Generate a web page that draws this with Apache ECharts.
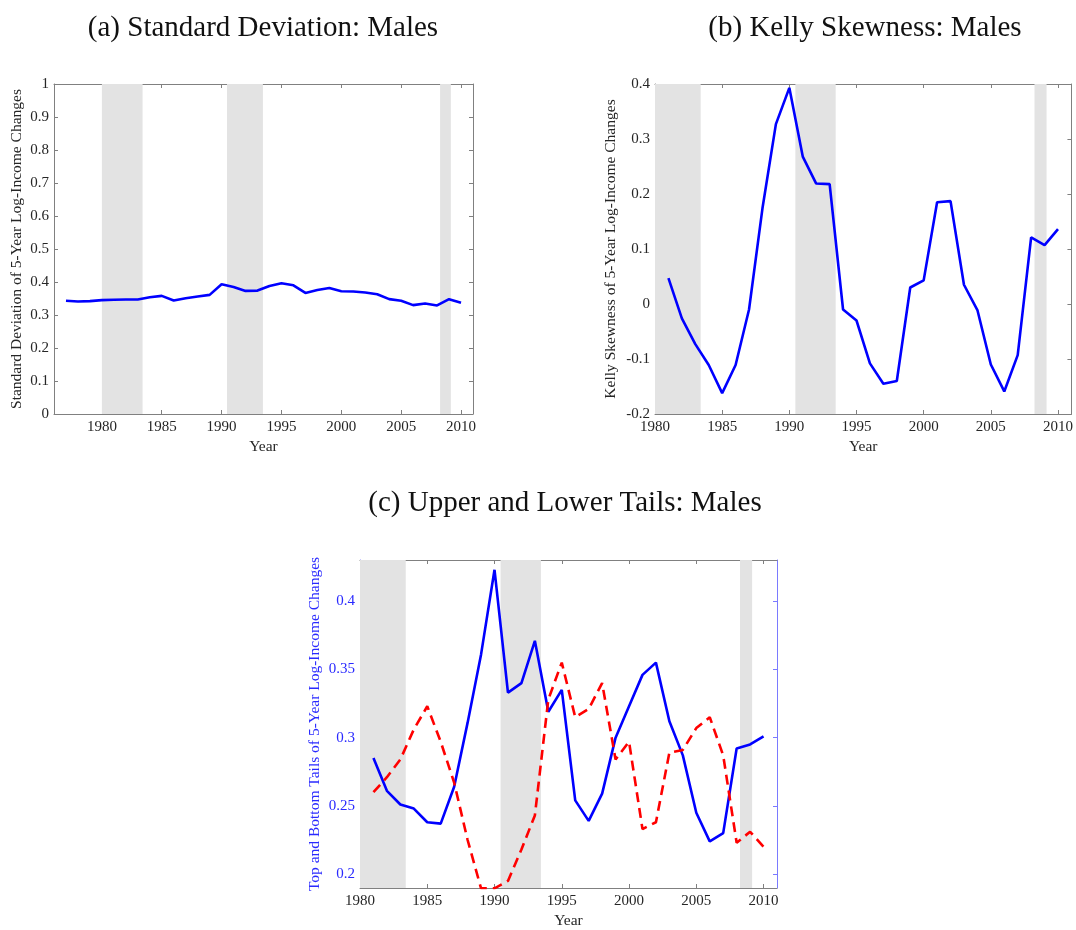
<!DOCTYPE html>
<html><head><meta charset="utf-8">
<script src="https://cdn.jsdelivr.net/npm/echarts@6/dist/echarts.min.js"></script>
<style>html,body{margin:0;padding:0;background:#fff}#c{width:1076px;height:930px}</style>
</head><body><div id="c"></div>
<script>
// ---- data ----
const sdYears = [1977,1978,1979,1980,1981,1982,1983,1984,1985,1986,1987,1988,1989,1990,1991,1992,1993,1994,1995,1996,1997,1998,1999,2000,2001,2002,2003,2004,2005,2006,2007,2008,2009,2010];
const sdValues = [0.343,0.341,0.342,0.345,0.346,0.347,0.347,0.354,0.358,0.344,0.351,0.356,0.361,0.393,0.385,0.373,0.374,0.388,0.396,0.390,0.367,0.376,0.382,0.372,0.371,0.368,0.363,0.348,0.343,0.330,0.335,0.329,0.348,0.337];

const kellyYears = [1981,1982,1983,1984,1985,1986,1987,1988,1989,1990,1991,1992,1993,1994,1995,1996,1997,1998,1999,2000,2001,2002,2003,2004,2005,2006,2007,2008,2009,2010];
const kellyValues = [0.047,-0.026,-0.073,-0.111,-0.162,-0.111,-0.010,0.174,0.327,0.393,0.268,0.219,0.218,-0.010,-0.030,-0.108,-0.145,-0.140,0.030,0.043,0.185,0.187,0.035,-0.011,-0.110,-0.159,-0.093,0.121,0.107,0.136];

const tailYears = [1981,1982,1983,1984,1985,1986,1987,1988,1989,1990,1991,1992,1993,1994,1995,1996,1997,1998,1999,2000,2001,2002,2003,2004,2005,2006,2007,2008,2009,2010];
const topTail = [0.285,0.261,0.251,0.248,0.238,0.237,0.264,0.311,0.361,0.423,0.333,0.340,0.371,0.319,0.335,0.254,0.239,0.259,0.300,0.323,0.346,0.355,0.312,0.287,0.245,0.224,0.230,0.292,0.295,0.301];
const bottomTail = [0.260,0.271,0.284,0.306,0.323,0.297,0.267,0.225,0.1895,0.1895,0.195,0.218,0.243,0.328,0.355,0.315,0.321,0.340,0.284,0.297,0.233,0.238,0.289,0.291,0.307,0.315,0.287,0.223,0.231,0.220];

const recessions = [[1980.0,1983.4],[1990.45,1993.45],[2008.25,2009.15]];
const yearTicks = [1980,1985,1990,1995,2000,2005,2010];
const tailTicks = [0.2,0.25,0.3,0.35,0.4];

const titles = ['(a) Standard Deviation: Males','(b) Kelly Skewness: Males','(c) Upper and Lower Tails: Males'];
const yNames = ['Standard Deviation of 5-Year Log-Income Changes','Kelly Skewness of 5-Year Log-Income Changes','Top and Bottom Tails of 5-Year Log-Income Changes'];

// ---- chart ----
const FF = "'Liberation Serif', serif";
const TXT = '#262626';
const AX = '#808080';
const BLUE = '#0000ff';
const LBLUE = '#2a2aff';

function xPair(gi, min, max) {
  return [
    {gridIndex: gi, type: 'value', min: min, max: max, position: 'bottom',
     name: 'Year', nameLocation: 'middle', nameGap: 25,
     nameTextStyle: {fontFamily: FF, fontSize: 15.5, color: TXT},
     axisLine: {onZero: false, lineStyle: {color: AX, width: 1}},
     axisTick: {inside: true, length: 4, customValues: yearTicks, lineStyle: {color: AX}},
     axisLabel: {customValues: yearTicks, fontFamily: FF, fontSize: 15, color: TXT, margin: 6, formatter: v => String(v)},
     splitLine: {show: false}},
    {gridIndex: gi, type: 'value', min: min, max: max, position: 'top',
     axisLine: {onZero: false, lineStyle: {color: AX, width: 1}},
     axisTick: {inside: true, length: 4, customValues: yearTicks, lineStyle: {color: AX}},
     axisLabel: {show: false}, splitLine: {show: false}}
  ];
}
function yPair(gi, opts) {
  const lc = opts.color || TXT, ac = opts.axisColor || AX;
  const tick = {inside: true, length: 4, lineStyle: {color: ac}};
  const lab = {fontFamily: FF, fontSize: 15, color: lc, margin: 5};
  if (opts.ticks) { tick.customValues = opts.ticks; lab.customValues = opts.ticks; }
  const base = {gridIndex: gi, type: 'value', min: opts.min, max: opts.max, splitLine: {show: false}};
  if (opts.interval) base.interval = opts.interval;
  return [
    Object.assign({}, base, {position: 'left', name: opts.name, nameLocation: 'middle', nameGap: opts.gap,
      nameTextStyle: {fontFamily: FF, fontSize: 15.5, color: lc},
      axisLine: {show: true, onZero: false, lineStyle: {color: ac, width: 1}}, axisTick: tick, axisLabel: lab}),
    Object.assign({}, base, {position: 'right',
      axisLine: {show: true, onZero: false, lineStyle: {color: opts.rightColor || AX, width: 1}},
      axisTick: Object.assign({}, tick, {lineStyle: {color: opts.rightColor || AX}}),
      axisLabel: {show: false}})
  ];
}
function shade(ai) {
  return {type: 'line', xAxisIndex: ai, yAxisIndex: ai, data: [], z: 1, silent: true,
    markArea: {silent: true, itemStyle: {color: '#e3e3e3'},
      data: recessions.map(r => [{xAxis: r[0]}, {xAxis: r[1]}])}};
}
function line(ai, xs, ys, color, type) {
  return {type: 'line', xAxisIndex: ai, yAxisIndex: ai, z: 3, showSymbol: false, symbol: 'none',
    clip: true, data: xs.map((x, i) => [x, ys[i]]),
    lineStyle: {color: color, width: 2.6, type: type || 'solid'}};
}

const tStyle = {fontFamily: FF, fontSize: 29, fontWeight: 'normal', color: '#111'};
const option = {
  animation: false,
  backgroundColor: '#fff',
  title: [
    {text: titles[0], left: 258, top: 9, textAlign: 'center', textStyle: tStyle},
    {text: titles[1], left: 860, top: 9, textAlign: 'center', textStyle: tStyle},
    {text: titles[2], left: 560, top: 484, textAlign: 'center', textStyle: tStyle}
  ],
  grid: [
    {left: 54, top: 84, width: 419, height: 330},
    {left: 655, top: 84, width: 418, height: 330},
    {left: 360, top: 560, width: 417, height: 329}
  ],
  xAxis: [].concat(xPair(0, 1976, 2011), xPair(1, 1980, 2011), xPair(2, 1980, 2011)),
  yAxis: [].concat(
    yPair(0, {min: 0, max: 1, interval: 0.1, name: yNames[0], gap: 29}),
    yPair(1, {min: -0.2, max: 0.4, interval: 0.1, name: yNames[1], gap: 36}),
    yPair(2, {min: 0.1898, max: 0.4302, ticks: tailTicks, name: yNames[2], gap: 37, color: LBLUE, axisColor: '#7a7aff', rightColor: '#7a7aff'})
  ),
  series: [
    shade(0), line(0, sdYears, sdValues, BLUE),
    shade(2), line(2, kellyYears, kellyValues, BLUE),
    shade(4), line(4, tailYears, topTail, BLUE),
    line(4, tailYears, bottomTail, '#ff0000', [10, 6])
  ]
};
const chart = echarts.init(document.getElementById('c'), null, {renderer: 'canvas'});
chart.setOption(option);
</script>
</body></html>
